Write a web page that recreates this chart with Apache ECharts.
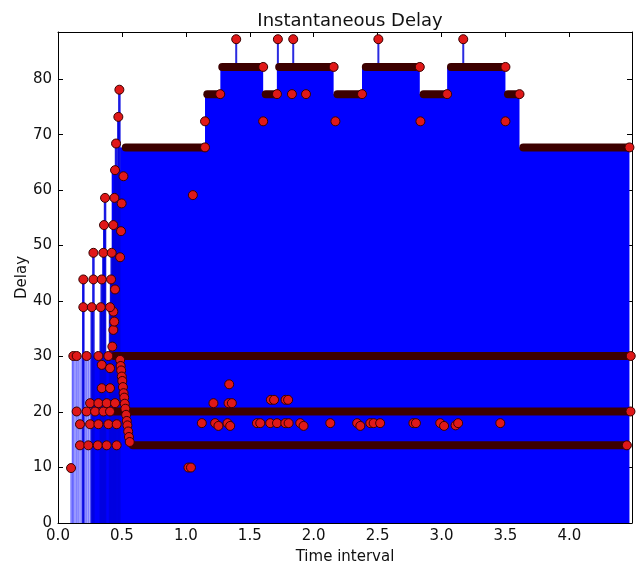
<!DOCTYPE html>
<html><head><meta charset="utf-8">
<script src="https://cdn.jsdelivr.net/npm/echarts@6/dist/echarts.min.js"></script>
<style>html,body{margin:0;padding:0;background:#fff}#c{width:641px;height:568px}</style>
</head><body><div id="c"></div>
<script>
// ---- data ----
const xTickLabels = ['0.0','0.5','1.0','1.5','2.0','2.5','3.0','3.5','4.0'];
const yTickLabels = ['0','10','20','30','40','50','60','70','80'];

// early sparse columns (line drops from the point to below the axis)
const colLowX   = [0.102, 0.113, 0.120, 0.133, 0.146, 0.158, 0.172, 0.185, 0.198, 0.212, 0.224, 0.237, 0.251];
const colLowTop = [9.9, 30.1, 30.1, 30.1, 30.1, 30.1, 30.1, 30.1, 43.9, 30.1, 30.1, 30.1, 30.1];
const colHighX   = [0.198, 0.264, 0.277, 0.334, 0.342, 0.355, 0.362, 0.368, 0.407, 0.415, 0.420, 0.433, 0.441, 0.446, 0.454, 0.472, 0.480];
const colHighTop = [43.9, 38.9, 48.7, 38.9, 43.9, 48.7, 53.7, 58.6, 38.9, 43.9, 48.7, 53.7, 58.6, 63.6, 68.4, 73.2, 78.1];

// upper edge of the solid blue region
const fillStart = [0.262, 0.420, 0.486, 1.150, 1.270, 1.605, 1.712, 2.156, 2.378, 2.830, 3.044, 3.500, 3.610];
const fillEnd   = [0.420, 0.486, 1.150, 1.270, 1.605, 1.712, 2.156, 2.378, 2.830, 3.044, 3.500, 3.610, 4.470];
const fillLevel = [30.1, 63.6, 67.7, 77.3, 82.2, 77.3, 82.2, 77.3, 82.2, 77.3, 82.2, 77.3, 67.7];

// dense runs of markers (appear as dark bands)
const bandStart = [0.530, 1.168, 1.285, 1.625, 1.730, 2.186, 2.408, 2.860, 3.074, 3.520, 3.640, 0.440, 0.425, 0.585];
const bandEnd   = [1.150, 1.269, 1.605, 1.713, 2.156, 2.378, 2.830, 3.044, 3.500, 3.610, 4.470, 4.480, 4.478, 4.450];
const bandLevel = [67.7, 77.3, 82.2, 77.3, 82.2, 77.3, 82.2, 77.3, 82.2, 77.3, 67.7, 30.1, 20.1, 14.0];

// spikes above the 82 plateaus
const spikeX    = [1.394, 1.720, 1.840, 2.506, 3.170];
const spikeBase = [82.2, 82.2, 82.2, 82.2, 82.2];
const spikeTop  = [87.2, 87.2, 87.2, 87.2, 87.2];

// isolated samples
const ptX = [
  0.102,
  0.120, 0.146, 0.224, 0.316, 0.394,
  0.146, 0.224, 0.290, 0.355, 0.407,
  0.172, 0.251, 0.316, 0.394, 0.459,
  0.172, 0.237, 0.311, 0.381, 0.459,
  0.251, 0.316, 0.381, 0.446,
  0.342, 0.407, 0.342, 0.407,
  0.425, 0.433, 0.433, 0.440,
  0.198, 0.264, 0.334, 0.407,
  0.198, 0.277, 0.342, 0.415, 0.446,
  0.277, 0.355, 0.420, 0.486,
  0.360, 0.433, 0.493,
  0.368, 0.441, 0.498,
  0.446, 0.512,
  0.454, 0.472, 0.480,
  0.486, 0.490, 0.494, 0.499, 0.503, 0.508, 0.513, 0.518, 0.522, 0.527, 0.533, 0.538, 0.543, 0.549, 0.555, 0.561,
  1.020, 1.040, 1.055,
  1.150, 1.605, 2.170, 2.835, 3.500,
  1.830, 1.940,
  1.394, 1.720, 1.840, 2.506, 3.170,
  1.339, 1.216, 1.334, 1.360, 1.665, 1.690, 1.780, 1.800,
  1.125, 1.229, 1.255, 1.326, 1.347, 1.556, 1.582, 1.660, 1.713, 1.778, 1.804, 1.895, 1.921,
  2.130, 2.340, 2.365, 2.443, 2.469, 2.520, 2.780, 2.800, 2.990, 3.020, 3.110, 3.130, 3.460
];
const ptY = [
  9.9,
  30.1, 30.1, 30.1, 30.1, 30.1,
  20.1, 20.1, 20.1, 20.1, 20.1,
  17.8, 17.8, 17.8, 17.8, 17.8,
  14.0, 14.0, 14.0, 14.0, 14.0,
  21.6, 21.6, 21.6, 21.6,
  24.3, 24.3, 28.5, 27.9,
  31.8, 34.8, 38.1, 36.3,
  38.9, 38.9, 38.9, 38.9,
  43.9, 43.9, 43.9, 43.9, 42.1,
  48.7, 48.7, 48.7, 47.9,
  53.7, 53.7, 52.6,
  58.6, 58.6, 57.6,
  63.6, 62.5,
  68.4, 73.2, 78.1,
  29.4, 28.3, 27.5, 26.4, 25.6, 24.5, 23.4, 22.6, 21.5, 20.6, 19.5, 18.4, 17.6, 16.5, 15.5, 14.6,
  10.0, 10.0, 59.1,
  72.4, 72.4, 72.4, 72.4, 72.4,
  77.3, 77.3,
  87.2, 87.2, 87.2, 87.2, 87.2,
  25.0, 21.6, 21.6, 21.6, 22.2, 22.2, 22.2, 22.2,
  18.0, 18.0, 17.5, 18.0, 17.5, 18.0, 18.0, 18.0, 18.0, 18.0, 18.0, 18.0, 17.5,
  18.0, 18.0, 17.5, 18.0, 18.0, 18.0, 18.0, 18.0, 18.0, 17.5, 17.6, 18.0, 18.0
];

// ---- build library data ----
const areaData = [[fillStart[0], 0]];
fillStart.forEach((s, i) => { areaData.push([s, fillLevel[i]]); areaData.push([fillEnd[i], fillLevel[i]]); });
areaData.push([fillEnd[fillEnd.length - 1], 0]);

const colLowData = colLowX.map((x, i) => [x, 0, colLowTop[i]]);
const colHighData = colHighX.map((x, i) => [x, 0, colHighTop[i]]);
const spikeData = spikeX.map((x, i) => [x, spikeBase[i], spikeTop[i]]);
const bandData = bandStart.map((s, i) => [s, bandEnd[i], bandLevel[i]]);
const bandEndData = bandEnd.map((e, i) => [e, bandLevel[i]]);
const ptData = ptX.map((x, i) => [x, ptY[i]]);

function vline(color, width, opacity) {
  return function (params, api) {
    const x = api.value(0);
    const a = api.coord([x, api.value(1)]);
    const b = api.coord([x, api.value(2)]);
    return { type: 'line', shape: { x1: a[0], y1: a[1], x2: b[0], y2: b[1] },
      style: { stroke: color, lineWidth: width, opacity: opacity } };
  };
}
function hband(params, api) {
  const a = api.coord([api.value(0), api.value(2)]);
  const b = api.coord([api.value(1), api.value(2)]);
  return { type: 'line', shape: { x1: a[0], y1: a[1], x2: b[0], y2: b[1] },
    style: { stroke: '#3c0000', lineWidth: 8, lineCap: 'round' } };
}

const XMIN = 0, XMAX = 4.49, YMIN = 0, YMAX = 88.5;
const font = 'DejaVu Sans';
const xFmt = v => { const k = Math.round(v / 0.5); return Math.abs(v - k * 0.5) < 1e-6 ? xTickLabels[k] || '' : ''; };
const yFmt = v => { const k = Math.round(v / 10); return Math.abs(v - k * 10) < 1e-6 ? yTickLabels[k] || '' : ''; };
const axisLineS = { show: true, onZero: false, lineStyle: { color: '#000', width: 1 } };
const tickS = { show: true, inside: true, length: 5, lineStyle: { color: '#000', width: 1 } };

const chart = echarts.init(document.getElementById('c'), null, { renderer: 'canvas' });
chart.setOption({
  animation: false,
  backgroundColor: '#fff',
  textStyle: { fontFamily: font },
  title: { text: 'Instantaneous Delay', left: 345, top: 7, textAlign: 'center',
    textStyle: { fontFamily: font, fontSize: 18, fontWeight: 'normal', color: '#111' } },
  grid: { left: 58, right: 9, top: 32, bottom: 45, containLabel: false, outerBoundsMode: 'none' },
  xAxis: [
    { type: 'value', min: XMIN, max: XMAX, interval: 0.5, position: 'bottom',
      name: 'Time interval', nameLocation: 'middle', nameGap: 27, nameMoveOverlap: false,
      nameTextStyle: { fontFamily: font, fontSize: 15, color: '#111' },
      axisLine: axisLineS, axisTick: tickS, splitLine: { show: false },
      axisLabel: { formatter: xFmt, margin: 6, fontFamily: font, fontSize: 15, color: '#111', showMaxLabel: false } },
    { type: 'value', min: XMIN, max: XMAX, interval: 0.5, position: 'top',
      axisLine: axisLineS, axisTick: tickS, splitLine: { show: false }, axisLabel: { show: false } }
  ],
  yAxis: [
    { type: 'value', min: YMIN, max: YMAX, interval: 10, position: 'left',
      name: 'Delay', nameLocation: 'middle', nameGap: 28, nameMoveOverlap: false,
      nameTextStyle: { fontFamily: font, fontSize: 15, color: '#111' },
      axisLine: axisLineS, axisTick: tickS, splitLine: { show: false },
      axisLabel: { formatter: yFmt, margin: 6, fontFamily: font, fontSize: 15, color: '#111', showMaxLabel: false } },
    { type: 'value', min: YMIN, max: YMAX, interval: 10, position: 'right',
      axisLine: axisLineS, axisTick: tickS, splitLine: { show: false }, axisLabel: { show: false } }
  ],
  series: [
    { type: 'line', data: areaData, symbol: 'none', lineStyle: { width: 0 },
      areaStyle: { color: '#0000ff', opacity: 1 }, z: 1, silent: true },
    { type: 'custom', data: colLowData, renderItem: vline('#0000ff', 1.5, 0.5), encode: { x: 0, y: [1, 2] }, clip: true, z: 2 },
    { type: 'custom', data: colHighData, renderItem: vline('#0000e0', 2.5, 0.9), encode: { x: 0, y: [1, 2] }, clip: true, z: 2 },
    { type: 'custom', data: spikeData, renderItem: vline('#2a2ae0', 2, 1), encode: { x: 0, y: [1, 2] }, clip: true, z: 2 },
    { type: 'custom', data: bandData, renderItem: hband, encode: { x: [0, 1], y: 2 }, clip: true, z: 3 },
    { type: 'scatter', data: bandEndData, symbol: 'circle', symbolSize: 9, z: 4,
      itemStyle: { color: '#e01818', borderColor: '#3a0000', borderWidth: 1, opacity: 1 } },
    { type: 'scatter', data: ptData, symbol: 'circle', symbolSize: 9, z: 5,
      itemStyle: { color: '#e01818', borderColor: '#3a0000', borderWidth: 1, opacity: 1 } }
  ]
});
</script></body></html>
